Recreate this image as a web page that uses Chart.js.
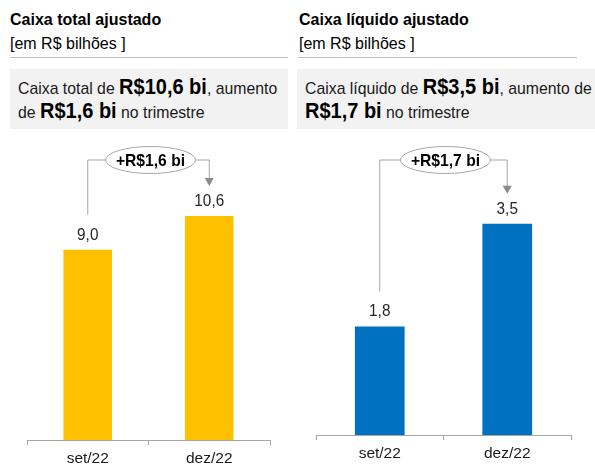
<!DOCTYPE html>
<html>
<head>
<meta charset="utf-8">
<script src="https://cdn.jsdelivr.net/npm/chart.js"></script>
<style>
  body { margin: 0; width: 595px; height: 464px; overflow: hidden; position: relative; background: #fff;
         font-family: "Liberation Sans", Arial, sans-serif; color: #000; }
  .title { position: absolute; top: 11px; font-size: 16px; font-weight: bold; white-space: nowrap; }
  .sub { position: absolute; top: 35px; font-size: 16px; white-space: nowrap; }
  .rule { position: absolute; top: 57px; height: 1px; background: #bfbfbf; }
  .box { position: absolute; top: 69px; height: 60px; background: #f2f2f2; }
  .line { position: absolute; font-size: 17px; line-height: 24px; white-space: nowrap;
          transform: scaleX(0.93); transform-origin: 0 0; color: #1a1a1a; }
  .line b { font-size: 21.5px; line-height: 1; color: #000; }
  canvas { position: absolute; }
</style>
</head>
<body>
<div class="title" style="left:10px">Caixa total ajustado</div>
<div class="sub" style="left:10px">[em R$ bilhões ]</div>
<div class="rule" style="left:10px;width:278px"></div>
<div class="box" style="left:10px;width:278px"></div>
<div class="line" style="left:18px;top:77px">Caixa total de <b>R$10,6 bi</b>, aumento</div>
<div class="line" style="left:18px;top:101px">de <b>R$1,6 bi</b> no trimestre</div>

<div class="title" style="left:299px">Caixa líquido ajustado</div>
<div class="sub" style="left:299px">[em R$ bilhões ]</div>
<div class="rule" style="left:298px;width:279px"></div>
<div class="box" style="left:297px;width:298px"></div>
<div class="line" style="left:305px;top:77px">Caixa líquido de <b>R$3,5 bi</b>, aumento de</div>
<div class="line" style="left:305px;top:101px"><b>R$1,7 bi</b> no trimestre</div>

<canvas id="totalChart" style="left:0;top:130px" width="295" height="340"></canvas>
<canvas id="liquidChart" style="left:295px;top:130px" width="300" height="340"></canvas>

<script>
// Data
const categories = ['set/22', 'dez/22'];
const totalValues = [9.0, 10.6];
const liquidValues = [1.8, 3.5];
const totalDelta = '+R$1,6 bi';
const liquidDelta = '+R$1,7 bi';

function fmt(v) {
  return v.toFixed(1).replace('.', ',');
}

function squeezedText(ctx, text, x, y, font, color, sx) {
  ctx.save();
  ctx.font = font;
  ctx.fillStyle = color;
  ctx.textAlign = 'center';
  ctx.textBaseline = 'middle';
  ctx.translate(x, y);
  ctx.scale(sx, 1);
  ctx.fillText(text, 0, 0);
  ctx.restore();
}

// value labels above the bars + the "+R$ x bi" bracket
const barExtras = {
  id: 'barExtras',
  afterDatasetsDraw(chart, args, opts) {
    const ctx = chart.ctx;
    const bars = chart.getDatasetMeta(0).data;
    const values = chart.data.datasets[0].data;
    bars.forEach((bar, i) => {
      squeezedText(ctx, fmt(values[i]), bar.x, bar.y - 15, '17px "Liberation Sans", Arial', '#262626', 0.9);
    });

    const yScale = chart.scales.y;
    const x0 = bars[0].x, x1 = bars[1].x;
    const topY = chart.chartArea.top + 20;
    const startY = yScale.getPixelForValue(values[0]) - 35;
    const tipY = yScale.getPixelForValue(values[1]) - 30;
    const cx = (x0 + x1) / 2 + 2;

    ctx.save();
    ctx.strokeStyle = '#a6a6a6';
    ctx.lineWidth = 1;
    ctx.beginPath();
    ctx.moveTo(x0, startY);
    ctx.lineTo(x0, topY);
    ctx.lineTo(x1, topY);
    ctx.lineTo(x1, tipY - 7);
    ctx.stroke();
    ctx.fillStyle = '#8c8c8c';
    ctx.beginPath();
    ctx.moveTo(x1 - 4.5, tipY - 8);
    ctx.lineTo(x1 + 4.5, tipY - 8);
    ctx.lineTo(x1, tipY);
    ctx.closePath();
    ctx.fill();
    ctx.beginPath();
    ctx.ellipse(cx, topY, 45, 13.5, 0, 0, Math.PI * 2);
    ctx.fillStyle = '#fff';
    ctx.fill();
    ctx.stroke();
    ctx.restore();
    squeezedText(ctx, opts.delta, cx, topY + 1, 'bold 17px "Liberation Sans", Arial', '#000', 0.92);
  }
};

function makeChart(id, values, color, yMax, delta, pad, axisHeight, barPct) {
  return new Chart(document.getElementById(id), {
    type: 'bar',
    data: {
      labels: categories,
      datasets: [{
        data: values,
        backgroundColor: color,
        barPercentage: barPct,
        categoryPercentage: 1,
      }],
    },
    options: {
      responsive: false,
      animation: false,
      layout: { padding: pad },
      plugins: {
        legend: { display: false },
        tooltip: { enabled: false },
        barExtras: { delta: delta },
      },
      scales: {
        x: {
          afterFit(scale) { scale.height = axisHeight; },
          grid: { display: true, drawOnChartArea: false, tickLength: 5, color: '#a6a6a6' },
          border: { display: true, color: '#a6a6a6' },
          ticks: { color: '#1a1a1a', padding: 4, font: { family: '"Liberation Sans", Arial', size: 15.5 } },
        },
        y: { display: false, min: 0, max: yMax },
      },
    },
    plugins: [barExtras],
  });
}

makeChart('totalChart', totalValues, '#ffc000', 14.2, totalDelta,
  { left: 27, right: 25, top: 10, bottom: 0 }, 30, 0.4);
makeChart('liquidChart', liquidValues, '#0070c0', 4.89, liquidDelta,
  { left: 21, right: 24, top: 10, bottom: 0 }, 35, 0.39);
</script>
</body>
</html>
